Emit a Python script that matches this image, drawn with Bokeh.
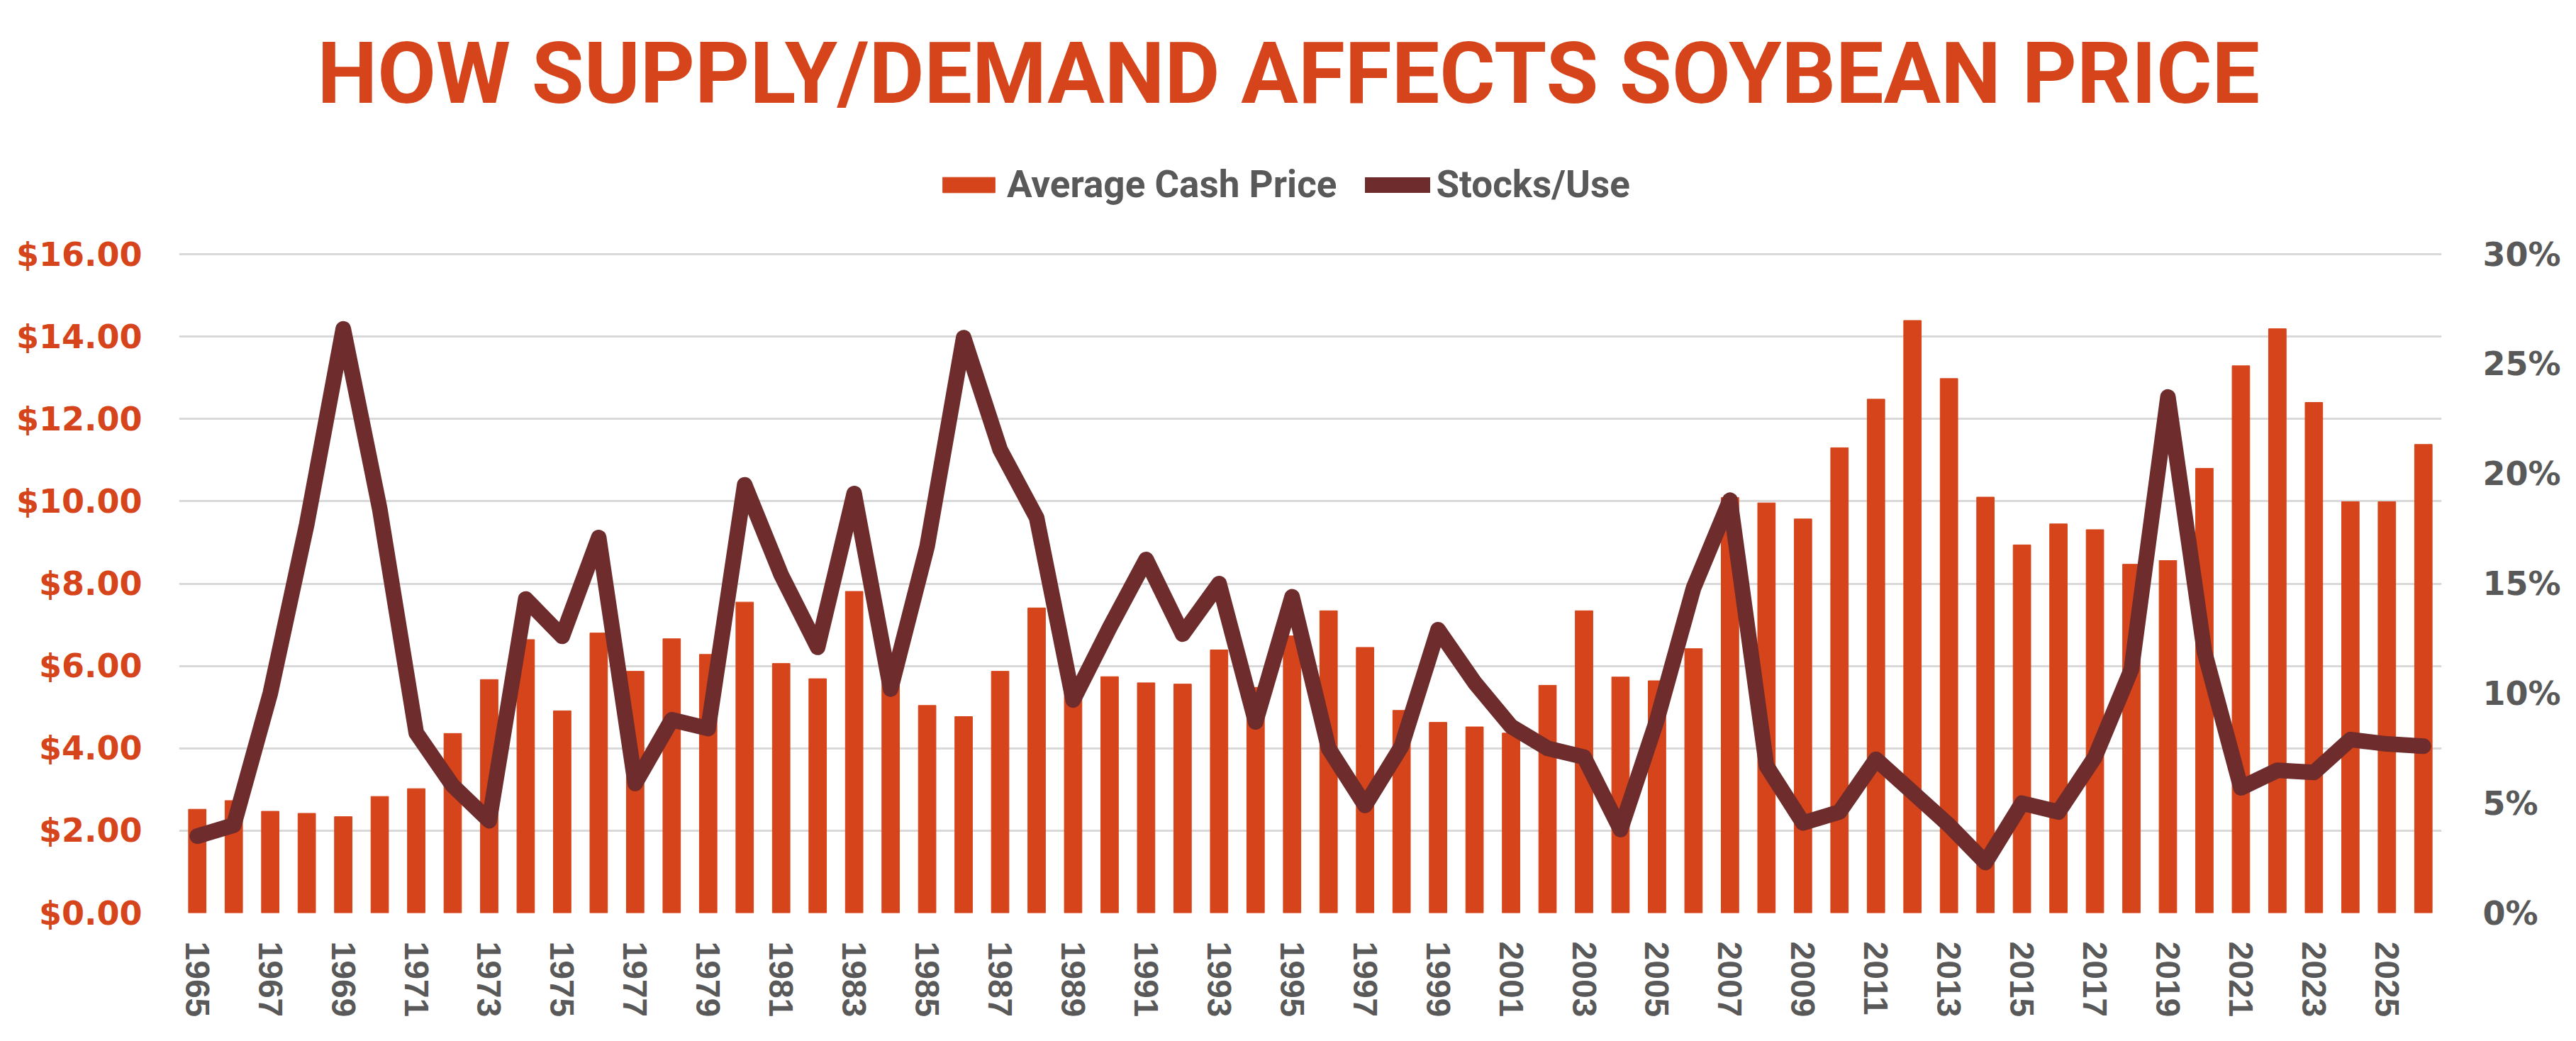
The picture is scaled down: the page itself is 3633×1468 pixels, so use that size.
import math
from bokeh.plotting import figure
from bokeh.models import (Range1d, LinearAxis, FixedTicker, NumeralTickFormatter,
                          PrintfTickFormatter, Legend, LegendItem, Title)
from bokeh.embed import file_html
from bokeh.resources import INLINE

years = list(range(1965, 2027))
avg_cash_price = [2.52, 2.73, 2.47, 2.42, 2.34, 2.83, 3.02, 4.36, 5.67, 6.64,
                  4.91, 6.80, 5.87, 6.66, 6.28, 7.55, 6.06, 5.69, 7.81, 5.78,
                  5.04, 4.77, 5.87, 7.41, 5.70, 5.74, 5.59, 5.56, 6.39, 5.48,
                  6.73, 7.34, 6.45, 4.92, 4.63, 4.52, 4.37, 5.53, 7.34, 5.73,
                  5.64, 6.42, 10.09, 9.96, 9.57, 11.30, 12.48, 14.39, 12.98, 10.10,
                  8.94, 9.45, 9.31, 8.47, 8.56, 10.80, 13.29, 14.19, 12.40, 9.99,
                  9.99, 11.38]
stocks_use_pct = [3.5, 4.0, 10.0, 17.7, 26.6, 18.4, 8.2, 5.8, 4.2, 14.3,
                  12.6, 17.1, 5.9, 8.8, 8.4, 19.5, 15.4, 12.1, 19.1, 10.2,
                  16.7, 26.2, 21.1, 18.0, 9.7, 13.0, 16.1, 12.7, 15.0, 8.7,
                  14.4, 7.5, 4.9, 7.6, 12.9, 10.5, 8.5, 7.5, 7.1, 3.8,
                  8.8, 14.8, 18.8, 6.7, 4.1, 4.6, 7.0, 5.5, 4.0, 2.3,
                  5.0, 4.6, 7.1, 11.1, 23.5, 11.9, 5.7, 6.5, 6.4, 7.9,
                  7.7, 7.6]
price_ticks = [0, 2, 4, 6, 8, 10, 12, 14, 16]
pct_ticks = [0, 5, 10, 15, 20, 25, 30]
year_ticks = list(range(1965, 2027, 2))

ORANGE = "#D5441A"
MAROON = "#6E2C2D"
GRAY = "#595959"

# frame extends above the $16 gridline to hold the legend
PRICE_TOP = 16 * 1087 / 929
PCT_TOP = 30 * 1087 / 929

p = figure(width=3633, height=1468, output_backend="svg", toolbar_location=None,
           x_range=Range1d(1964.5, 2026.5), y_range=Range1d(0, PRICE_TOP), title=None,
           min_border_left=252, min_border_right=190, min_border_top=200,
           min_border_bottom=181)
p.outline_line_color = None
p.extra_y_ranges = {"pct": Range1d(0, PCT_TOP)}

bars = p.vbar(x=years, top=avg_cash_price, width=0.48, color=ORANGE)
line = p.line(x=years, y=stocks_use_pct, y_range_name="pct", line_width=22,
              line_color=MAROON, line_join="round", line_cap="round")

# axes
p.xaxis.ticker = FixedTicker(ticks=year_ticks)
p.xaxis.major_label_orientation = -math.pi / 2
p.xaxis.major_label_text_font = "Liberation Sans"
p.xaxis.major_label_text_font_style = "bold"
p.xaxis.major_label_text_font_size = "48px"
p.xaxis.major_label_text_color = GRAY
p.xaxis.major_label_standoff = 34
p.xaxis.axis_line_color = None
p.xaxis.major_tick_line_color = None
p.xaxis.minor_tick_line_color = None

p.yaxis.ticker = FixedTicker(ticks=price_ticks)
p.yaxis.formatter = NumeralTickFormatter(format="$0.00")
p.yaxis.major_label_text_font = "DejaVu Sans"
p.yaxis.major_label_text_font_style = "bold"
p.yaxis.major_label_text_font_size = "46px"
p.yaxis.major_label_text_color = ORANGE
p.yaxis.major_label_standoff = 46
p.yaxis.axis_line_color = None
p.yaxis.major_tick_line_color = None
p.yaxis.minor_tick_line_color = None

raxis = LinearAxis(y_range_name="pct", ticker=FixedTicker(ticks=pct_ticks),
                   formatter=PrintfTickFormatter(format="%d%%"))
raxis.major_label_text_font = "DejaVu Sans"
raxis.major_label_text_font_style = "bold"
raxis.major_label_text_font_size = "46px"
raxis.major_label_text_color = GRAY
raxis.major_label_standoff = 52
raxis.axis_line_color = None
raxis.major_tick_line_color = None
raxis.minor_tick_line_color = None
p.add_layout(raxis, "right")

p.xgrid.grid_line_color = None
p.ygrid.ticker = FixedTicker(ticks=price_ticks)
p.ygrid.grid_line_color = "#D9D9D9"
p.ygrid.grid_line_width = 3

legend = Legend(items=[LegendItem(label="Average Cash Price", renderers=[bars]),
                       LegendItem(label="Stocks/Use", renderers=[line])],
                orientation="horizontal", location=(1068, 996),
                glyph_width=92, glyph_height=27, label_standoff=8, spacing=40,
                padding=0, margin=0, border_line_color=None,
                background_fill_alpha=0,
                label_text_font="Roboto",
                label_text_font_style="bold", label_text_font_size="53px",
                label_text_color=GRAY)
p.add_layout(legend, "center")

title = Title(text="HOW SUPPLY/DEMAND AFFECTS SOYBEAN PRICE", align="left", offset=195,
              text_font="Roboto", text_font_style="bold",
              text_font_size="120px", text_color=ORANGE, standoff=54)
p.add_layout(title, "above")

open("out.html", "w").write(file_html(p, INLINE))
